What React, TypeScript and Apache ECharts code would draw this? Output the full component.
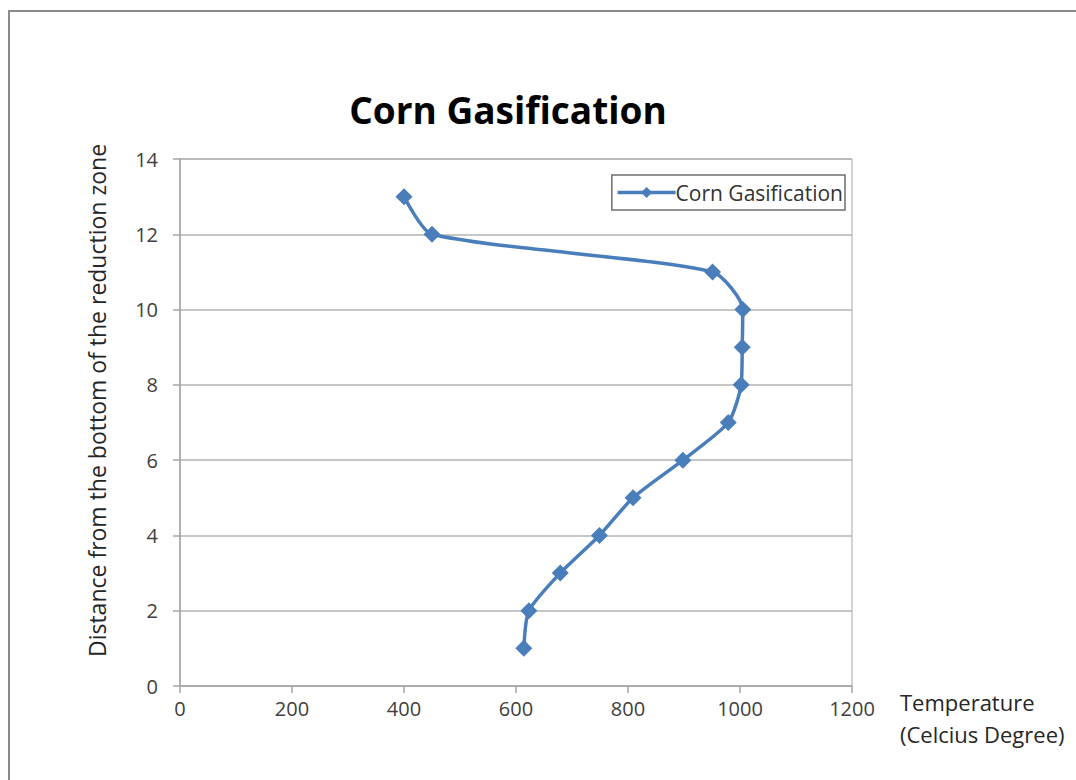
import React, { useEffect, useRef } from "react";
import * as echarts from "echarts";

const title = "Corn Gasification";
const seriesName = "Corn Gasification";
const temperatures = [400, 450, 951, 1005, 1004, 1002, 979, 898, 809, 749, 679, 623, 614];
const distances = [13, 12, 11, 10, 9, 8, 7, 6, 5, 4, 3, 2, 1];
const xAxisName = "Temperature\n(Celcius Degree)";
const yAxisName = "Distance from the bottom of the reduction zone";

const FONT = "'Open Sans', Lato, sans-serif";

export default function App() {
  const ref = useRef<HTMLDivElement>(null);
  useEffect(() => {
    document.body.style.margin = "0";
    const chart = echarts.init(ref.current!, null, { renderer: "svg" });
    const data = temperatures.map((t, i) => [t, distances[i]]);
    chart.setOption({
      animation: false,
      backgroundColor: "#ffffff",
      textStyle: { fontFamily: FONT },
      title: {
        text: title,
        left: 503,
        textAlign: "center",
        top: 86,
        textStyle: { fontFamily: FONT, fontWeight: "bold", fontSize: 37, color: "#000000" },
      },
      graphic: [
        {
          type: "rect",
          shape: { x: 9, y: 11, width: 1200, height: 900 },
          style: { fill: "none", stroke: "#8a8a8a", lineWidth: 2 },
          z: -1,
        },
      ],
      legend: {
        show: true,
        right: 231,
        top: 175,
        orient: "horizontal",
        borderColor: "#6e6e6e",
        borderWidth: 1.5,
        borderRadius: 0,
        padding: [7, 2, 7, 4],
        itemWidth: 58,
        itemHeight: 14,
        itemGap: 4,
        lineStyle: { width: 3.5 },
        textStyle: { fontFamily: FONT, fontSize: 21, color: "#333333", padding: [0, 0, 0, -5] },
        data: [seriesName],
      },
      grid: {
        left: 180,
        right: 224,
        top: 159,
        bottom: 94,
        show: true,
        borderColor: "#a6a6a6",
        borderWidth: 1,
        containLabel: false,
      },
      xAxis: {
        type: "value",
        min: 0,
        max: 1200,
        interval: 200,
        name: xAxisName,
        nameLocation: "end",
        nameGap: 48,
        nameTextStyle: {
          fontFamily: FONT,
          fontSize: 22,
          color: "#262626",
          align: "left",
          verticalAlign: "top",
          lineHeight: 32,
        },
        axisLine: { show: true, lineStyle: { color: "#a6a6a6", width: 1.5 } },
        axisTick: { show: true, length: 7, lineStyle: { color: "#a6a6a6", width: 1.5 } },
        axisLabel: { fontFamily: FONT, fontSize: 20, color: "#404040", margin: 12, formatter: (v: number) => String(v) },
        splitLine: { show: false },
      },
      yAxis: {
        type: "value",
        min: 0,
        max: 14,
        interval: 2,
        name: yAxisName,
        nameLocation: "middle",
        nameGap: 72,
        nameRotate: 90,
        nameTextStyle: { fontFamily: FONT, fontSize: 23, color: "#262626", padding: [0, 0, 0, 44] },
        axisLine: { show: true, lineStyle: { color: "#a6a6a6", width: 1.5 } },
        axisTick: { show: true, length: 7, lineStyle: { color: "#a6a6a6", width: 1.5 } },
        axisLabel: { fontFamily: FONT, fontSize: 20, color: "#404040", margin: 22, formatter: (v: number) => String(v) },
        splitLine: { show: true, lineStyle: { color: "#b3b3b3", width: 1.5 } },
      },
      series: [
        {
          name: seriesName,
          type: "line",
          data,
          smooth: 0.22,
          symbol: "diamond",
          symbolSize: 17,
          color: "#4a7ebb",
          lineStyle: { color: "#4a7ebb", width: 3.5 },
          itemStyle: { color: "#4a7ebb" },
        },
      ],
    });
    return () => chart.dispose();
  }, []);
  return <div ref={ref} style={{ width: 1076, height: 780 }} />;
}
